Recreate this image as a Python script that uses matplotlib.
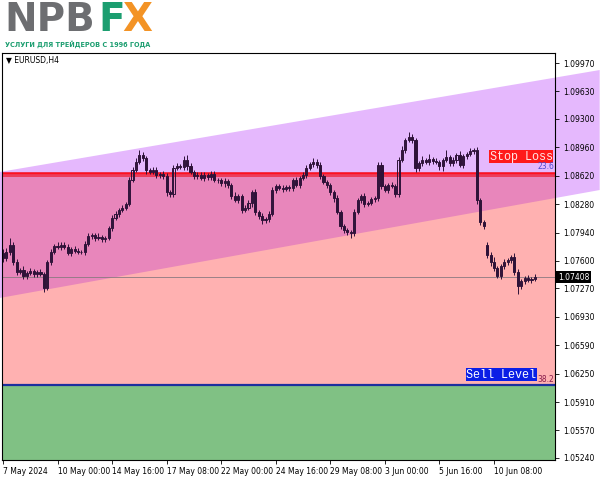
import matplotlib.pyplot as plt
from matplotlib.patches import Polygon, Rectangle

# EURUSD H4 closes (first open given, later opens = previous close)
closes = [
    1.07635, 1.07707, 1.07791, 1.07587, 1.07467, 1.07491, 1.07419, 1.07455, 1.07479, 1.07443,
    1.07467, 1.07443, 1.07276, 1.07587, 1.07707, 1.07779, 1.07767, 1.07791, 1.07767, 1.07695,
    1.07743, 1.07719, 1.07707, 1.07712, 1.07803, 1.07898, 1.07910, 1.07874, 1.07886, 1.07862,
    1.07874, 1.07994, 1.08114, 1.08162, 1.08210, 1.08234, 1.08282, 1.08569, 1.08689, 1.08784,
    1.08868, 1.08832, 1.08689, 1.08665, 1.08689, 1.08629, 1.08641, 1.08617, 1.08425, 1.08401,
    1.08713, 1.08737, 1.08725, 1.08808, 1.08737, 1.08665, 1.08617, 1.08629, 1.08593, 1.08629,
    1.08605, 1.08641, 1.08569, 1.08569, 1.08533, 1.08557, 1.08509, 1.08377, 1.08329, 1.08377,
    1.08210, 1.08234, 1.08293, 1.08425, 1.08186, 1.08138, 1.08090, 1.08102, 1.08162, 1.08449,
    1.08497, 1.08473, 1.08461, 1.08485, 1.08473, 1.08569, 1.08509, 1.08593, 1.08629, 1.08713,
    1.08760, 1.08784, 1.08749, 1.08617, 1.08545, 1.08509, 1.08425, 1.08353, 1.08186, 1.08018,
    1.07970, 1.07946, 1.07934, 1.08186, 1.08329, 1.08377, 1.08282, 1.08293, 1.08341, 1.08353,
    1.08749, 1.08497, 1.08449, 1.08509, 1.08497, 1.08401, 1.08808, 1.08928, 1.09048, 1.09084,
    1.09048, 1.08713, 1.08772, 1.08808, 1.08784, 1.08820, 1.08796, 1.08784, 1.08737, 1.08808,
    1.08844, 1.08772, 1.08808, 1.08868, 1.08749, 1.08856, 1.08880, 1.08916, 1.08928, 1.08329,
    1.08066, 1.08018, 1.07671, 1.07587, 1.07515, 1.07419, 1.07539, 1.07587, 1.07611, 1.07647,
    1.07467, 1.07300, 1.07359, 1.07395, 1.07371, 1.07383, 1.07408,
]
first_open = 1.07700
gap_bar = 142          # monday gap 10 Jun
gap_open = 1.07790

# wick sizes in pips
upper_wick = [
    4, 5, 8, 3, 4, 3, 5, 2, 4, 3, 3, 4, 2, 3, 4, 2, 5, 3, 4, 3,
    2, 3, 4, 2, 3, 4, 3, 2, 5, 3, 2, 3, 4, 3, 2, 3, 2, 4, 3, 5,
    6, 4, 3, 2, 3, 4, 2, 3, 3, 2, 4, 3, 2, 5, 6, 3, 2, 4, 3, 3,
    2, 4, 3, 2, 3, 4, 2, 3, 5, 3, 2, 3, 4, 3, 4, 2, 3, 2, 3, 4,
    3, 2, 4, 3, 2, 3, 4, 2, 3, 4, 3, 5, 4, 3, 2, 3, 2, 3, 4, 2,
    3, 2, 3, 4, 3, 2, 4, 3, 2, 3, 4, 3, 2, 3, 4, 3, 4, 5, 3, 6,
    4, 3, 2, 5, 3, 6, 2, 4, 3, 2, 8, 3, 4, 2, 5, 3, 2, 4, 3, 4,
    3, 2, 4, 3, 6, 3, 2, 4, 3, 2, 5, 4, 3, 2, 4, 3, 3,
]
lower_wick = [
    5, 3, 4, 4, 3, 2, 4, 3, 2, 4, 3, 2, 5, 3, 4, 2, 3, 4, 3, 2,
    4, 3, 2, 3, 4, 2, 3, 3, 2, 4, 3, 2, 3, 2, 4, 3, 2, 3, 2, 3,
    2, 4, 5, 3, 2, 3, 4, 3, 5, 4, 3, 2, 3, 4, 5, 2, 3, 4, 2, 3,
    4, 3, 2, 4, 3, 5, 3, 4, 2, 3, 4, 3, 2, 5, 4, 3, 5, 4, 3, 2,
    3, 2, 3, 2, 4, 3, 2, 3, 2, 3, 2, 3, 4, 3, 2, 4, 3, 5, 3, 4,
    3, 4, 6, 3, 2, 3, 4, 3, 2, 4, 3, 4, 2, 3, 2, 4, 3, 2, 3, 2,
    3, 5, 4, 3, 2, 4, 3, 2, 5, 6, 2, 3, 4, 3, 2, 4, 3, 2, 3, 5,
    4, 3, 3, 5, 4, 2, 3, 4, 3, 4, 3, 10, 4, 3, 2, 3, 2,
]

tick_bars = [0, 16, 32, 48, 64, 80, 96, 112, 128, 144]
tick_dates = ['7 May 2024', '10 May 00:00', '14 May 16:00', '17 May 08:00', '22 May 00:00',
              '24 May 16:00', '29 May 08:00', '3 Jun 00:00', '5 Jun 16:00', '10 Jun 08:00']
price_ticks = [1.09970, 1.09630, 1.09300, 1.08960, 1.08620, 1.08280, 1.07940, 1.07600,
               1.07270, 1.06930, 1.06590, 1.06250, 1.05910, 1.05570, 1.05240]

# levels / channel
stop_loss = 1.08630
sell_level = 1.06117
last_price = 1.07408
chan_x = [-1, 175]
chan_upper = [1.08665, 1.09886]
chan_lower = [1.07156, 1.08449]

opens = [first_open] + closes[:-1]
opens[gap_bar] = gap_open
highs = [max(o, c) + u * 0.0001 for o, c, u in zip(opens, closes, upper_wick)]
lows = [min(o, c) - l * 0.0001 for o, c, l in zip(opens, closes, lower_wick)]

fig = plt.figure(figsize=(6, 4.8), dpi=100)
ax = fig.add_axes([2 / 600, 20 / 480, 553 / 600, 407 / 480])
x0, x1 = -0.29, 161.9
y0, y1 = 1.05216, 1.10090
ax.set_xlim(x0, x1)
ax.set_ylim(y0, y1)

purple = '#e5b8fd'
pink = '#e886bb'
salmon = '#ffb1b1'
green = '#80c184'

# salmon zone and green zone
ax.add_patch(Rectangle((x0, sell_level), x1 - x0, stop_loss - sell_level, color=salmon, lw=0, zorder=1))
ax.add_patch(Rectangle((x0, y0), x1 - x0, sell_level - y0, color=green, lw=0, zorder=1))

# channel (goes past the axes on the right)
verts = [(chan_x[0], chan_upper[0]), (chan_x[1], chan_upper[1]),
         (chan_x[1], chan_lower[1]), (chan_x[0], chan_lower[0])]
ax.add_patch(Polygon(verts, closed=True, color=purple, lw=0, zorder=0.5, clip_on=False))
clip_rect = Rectangle((x0, sell_level), x1 - x0, stop_loss - sell_level, transform=ax.transData)
inner = Polygon(verts, closed=True, color=pink, lw=0, zorder=1.5)
ax.add_patch(inner)
inner.set_clip_path(clip_rect)

# stop loss band + sell line
ax.axhspan(stop_loss - 0.00030, stop_loss + 0.00040, color='#ec3d5c', lw=0, zorder=2)
ax.axhline(stop_loss + 0.00028, color='#ff1020', lw=1.0, zorder=2.1)
ax.axhline(sell_level, color='#1c2f9e', lw=1.6, zorder=2)
ax.axhline(last_price, color='#8a7a80', lw=0.6, zorder=2)

# candles
edge = '#2e1238'
for i in range(len(closes)):
    o, c = opens[i], closes[i]
    ax.vlines(i, lows[i], highs[i], color=edge, lw=0.7, zorder=3)
    body = max(abs(c - o), 0.00004)
    if c >= o:
        ax.bar(i, body, bottom=o, width=0.62, facecolor='none', edgecolor=edge, lw=0.7, zorder=4)
    else:
        ax.bar(i, body, bottom=c, width=0.62, facecolor=edge, edgecolor=edge, lw=0.7, zorder=4)

# axes styling
for s in ax.spines.values():
    s.set_linewidth(0.8)
    s.set_zorder(5)
ax.yaxis.tick_right()
ax.set_yticks(price_ticks)
ax.set_yticklabels(['%.5f' % p for p in price_ticks])
ax.set_xticks(tick_bars)
ax.set_xticklabels(tick_dates, ha='left')
ax.tick_params(axis='y', length=3, width=0.6, labelsize=5.5, pad=3)
ax.tick_params(axis='x', length=3, width=0.6, labelsize=5.5, pad=2)

# labels on chart
ax.text(161.2, stop_loss + 0.00220, 'Stop Loss', family='Liberation Mono', fontsize=8.5,
        color='#ffe6e6', ha='right', va='center', zorder=6,
        bbox=dict(boxstyle='square,pad=0.05', fc='#ff1a1a', ec='none'))
ax.text(161.6, stop_loss + 0.00048, '23.6', fontsize=5.5, color='#4a4ad0', ha='right', va='bottom', zorder=6)
ax.text(156.4, sell_level + 0.00122, 'Sell Level', family='Liberation Mono', fontsize=8.5,
        color='white', ha='right', va='center', zorder=6,
        bbox=dict(boxstyle='square,pad=0.05', fc='#0a1ee6', ec='none'))
ax.text(161.6, sell_level + 0.00014, '38.2', fontsize=5.5, color='#8a1c4c', ha='right', va='bottom', zorder=6)
ax.text(1, 1.10000, '\u25bc EURUSD,H4', fontsize=5.5, color='black', va='center', zorder=6)

# current price tag
fig.text(558 / 600, 1 - 277 / 480, '%.5f' % last_price, fontsize=5.5, color='white', va='center',
         bbox=dict(boxstyle='square,pad=0.25', fc='black', ec='none'))

# logo
fig.text(4 / 600, 1 - 20 / 480, 'NPB', fontsize=28, weight='bold', color='#6d6e71', va='center')
fig.text(98 / 600, 1 - 20 / 480, 'F', fontsize=28, weight='bold', color='#1c9e70', va='center')
fig.text(122 / 600, 1 - 20 / 480, 'X', fontsize=28, weight='bold', color='#f39325', va='center')
fig.text(5 / 600, 1 - 44 / 480, 'УСЛУГИ ДЛЯ ТРЕЙДЕРОВ С 1996 ГОДА', fontsize=4.7, weight='bold',
         color='#1c9e70', va='center')

fig.savefig('out.png', dpi=100)
